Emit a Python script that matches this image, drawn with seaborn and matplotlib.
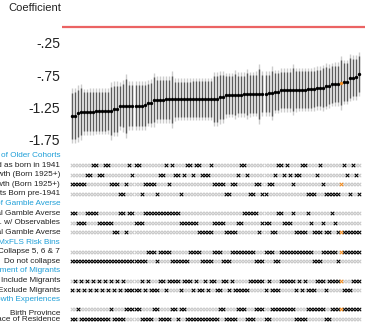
import matplotlib
matplotlib.use("Agg")
import matplotlib.pyplot as plt
import numpy as np
import pandas as pd
import seaborn as sns

# Point estimates, sorted from smallest to largest, and 95% half-widths
coef = [
    -1.385, -1.383, -1.35, -1.325, -1.323, -1.322, -1.32, -1.32, -1.318, -1.318,
    -1.316, -1.315, -1.314, -1.312, -1.28, -1.278, -1.236, -1.234, -1.232, -1.231,
    -1.23, -1.229, -1.228, -1.227, -1.226, -1.19, -1.188, -1.135,
    -1.134, -1.133, -1.133, -1.132, -1.132, -1.131, -1.131, -1.130, -1.130, -1.130,
    -1.129, -1.129, -1.128, -1.128, -1.128, -1.127, -1.127, -1.126, -1.126, -1.125,
    -1.125,
    -1.10, -1.095,
    -1.065, -1.063, -1.061, -1.059, -1.057, -1.055, -1.053, -1.051, -1.049, -1.047,
    -1.045, -1.043, -1.041, -1.039, -1.037, -1.035,
    -1.01, -1.008,
    -0.985, -0.984, -0.983, -0.982, -0.981, -0.98, -0.979, -0.978, -0.977, -0.976,
    -0.975, -0.972,
    -0.955, -0.953, -0.95,
    -0.925, -0.922,
    -0.895, -0.893, -0.89,
    -0.87,
    -0.86, -0.858,
    -0.792, -0.79, -0.788,
    -0.735,
]
ci95 = [
    0.43, 0.43, 0.44, 0.44, 0.36, 0.36, 0.36, 0.36, 0.36, 0.36,
    0.36, 0.36, 0.36, 0.45, 0.43, 0.43, 0.37, 0.40, 0.50, 0.38,
    0.38, 0.38, 0.38, 0.38, 0.38, 0.36, 0.37, 0.42, 0.37, 0.37,
    0.37, 0.37, 0.37, 0.44, 0.33, 0.33, 0.33, 0.33, 0.33, 0.33,
    0.33, 0.33, 0.33, 0.33, 0.33, 0.33, 0.33, 0.42, 0.42, 0.41,
    0.41, 0.35, 0.35, 0.35, 0.38, 0.35, 0.35, 0.35, 0.39, 0.35,
    0.35, 0.35, 0.47, 0.35, 0.35, 0.35, 0.42, 0.34, 0.34, 0.34,
    0.34, 0.34, 0.34, 0.40, 0.34, 0.34, 0.34, 0.34, 0.34, 0.34,
    0.34, 0.34, 0.34, 0.36, 0.36, 0.34, 0.34, 0.34, 0.34, 0.42,
    0.35, 0.35, 0.37, 0.35, 0.35, 0.34,
]
highlight = 89  # preferred specification

# Which option (1-based) each specification uses, one character per spec
cohort_spec = ("33333" "22112" "21133" "34431" "21143" "33342" "21312" "24211"
               "21122" "21333" "34433" "21124" "43344" "33211" "21232" "21144"
               "42134" "44443" "124124")
gamble_spec = ("11222" "11112" "22223" "31131" "12221" "11111" "11111" "12222"
               "22333" "33222" "23333" "22111" "11322" "23311" "22213" "33312"
               "33323" "31233" "333333")
risk_spec = ("22222" "22222" "22222" "22222" "22222" "11121" "11122" "22221"
             "11122" "22111" "22211" "11111" "12221" "11221" "11111" "11111"
             "22211" "11121" "111111")
migrant_spec = ("21212" "12121" "21212" "12122" "22212" "12221" "12111" "12111"
                "21221" "21122" "11212" "22221" "11112" "12221" "11112" "12122"
                "21112" "11111" "222111")
growth_spec = ("22122" "22222" "22212" "22211" "11122" "22112" "22211" "21122"
               "22222" "22221" "12222" "11122" "21112" "21111" "11112" "22211"
               "11112" "21111" "111111")

groups = [
    ("Definition of Older Cohorts",
     ["1941 Cohort Coded as born in 1941", "Cumulative Growth (Born 1925+)",
      "Average Growth (Born 1925+)", "Drop Cohorts Born pre-1941"], cohort_spec),
    ("Definition of Gamble Averse",
     ["Original Gamble Averse", "Imputed G.A. w/ Observables",
      "Partial Gamble Averse"], gamble_spec),
    ("Definition of MxFLS Risk Bins",
     ["Collapse 5, 6 & 7", "Do not collapse"], risk_spec),
    ("Treatment of Migrants",
     ["Include Migrants", "Exclude Migrants"], migrant_spec),
    ("Measure of Growth Experiences",
     ["Birth Province", "Place of Residence"], growth_spec),
]

ytick_vals = [-0.25, -0.75, -1.25, -1.75]
ytick_text = ["-.25", "-.75", "-1.25", "-1.75"]

sns.set_theme(style="white")
plt.rcParams["font.family"] = ["Liberation Sans", "DejaVu Sans"]

BLUE = "#1e9fd8"
ORANGE = "#ee8a1f"
GREY = "#c8c8c8"

n = len(coef)
spec = np.arange(n)
est = pd.DataFrame({"spec": spec, "coef": coef, "ci95": ci95})
est["ci90"] = est["ci95"] * 1.645 / 1.96

# Long table of the indicator matrix
rows, labels = [], []
r = 0
for header, opts, codes in groups:
    labels.append((r, header, True))
    r += 1
    for k, opt in enumerate(opts):
        labels.append((r, opt, False))
        for s, c in enumerate(codes):
            state = "off"
            if int(c) == k + 1:
                state = "hl" if s == highlight else "on"
            rows.append({"spec": s, "row": r, "state": state})
        r += 1
mat = pd.DataFrame(rows)

W, H = 365, 322
fig = plt.figure(figsize=(W / 100, H / 100), dpi=100)
ax = fig.add_axes([62 / W, 1 - 148 / H, 303 / W, 128 / H])
axm = fig.add_axes([62 / W, 0, 303 / W, 172 / H])
xlim = (-3.31, 96.9)

# Coefficient panel
ax.axhline(0, color="#e84848", lw=1.6, alpha=0.85, zorder=1)
ax.vlines(est["spec"], est["coef"] - est["ci95"], est["coef"] + est["ci95"],
          color="#cccccc", lw=1.0, zorder=2)
ax.vlines(est["spec"], est["coef"] - est["ci90"], est["coef"] + est["ci90"],
          color="#5c5c5c", lw=1.0, zorder=3)
sns.scatterplot(data=est[est["spec"] != highlight], x="spec", y="coef", ax=ax,
                color="black", s=6, linewidth=0, zorder=4)
sns.scatterplot(data=est[est["spec"] == highlight], x="spec", y="coef", ax=ax,
                color=ORANGE, s=6, linewidth=0, zorder=5)
ax.set_xlim(*xlim)
ax.set_ylim(-1.89, 0.109)
ax.set_yticks(ytick_vals)
ax.set_yticklabels(ytick_text, fontsize=10, color="#222222")
ax.set_xticks([])
ax.tick_params(axis="y", length=0, pad=1.5)
ax.set_xlabel("")
ax.set_ylabel("")
for sp in ax.spines.values():
    sp.set_visible(False)
fig.text(61 / W, 1 - 8 / H, "Coefficient", ha="right", va="center",
         fontsize=8, color="#222222")

# Indicator matrix
palette = {"off": GREY, "on": "black", "hl": ORANGE}
for state, z in [("off", 1), ("on", 2), ("hl", 3)]:
    sub = mat[mat["state"] == state]
    sns.scatterplot(data=sub, x="spec", y="row", ax=axm, marker="x",
                    color=palette[state], s=6, linewidth=0.75, zorder=z)
axm.set_xlim(*xlim)
axm.set_ylim(17.31, -0.57)
axm.set_xticks([])
axm.set_yticks([])
axm.set_xlabel("")
axm.set_ylabel("")
for sp in axm.spines.values():
    sp.set_visible(False)

label_x = -3.97
for row, text, is_header in labels:
    yy = row
    if text == "Birth Province":
        yy = row + 0.45
    axm.text(label_x, yy, text, ha="right", va="center", fontsize=5.9,
             color=BLUE if is_header else "#222222", clip_on=False)

fig.savefig("out.png", dpi=100)
